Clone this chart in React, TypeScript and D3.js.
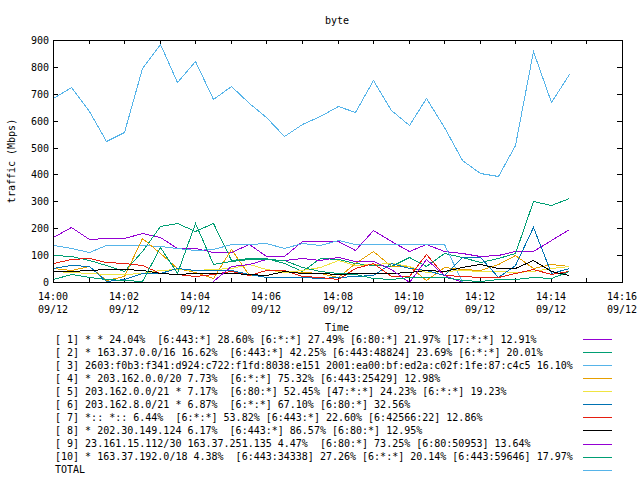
import React from "react";
import * as d3 from "d3";

const times = [
  "14:00:00", "14:00:30", "14:01:00", "14:01:30", "14:02:00", "14:02:30",
  "14:03:00", "14:03:30", "14:04:00", "14:04:30", "14:05:00", "14:05:30",
  "14:06:00", "14:06:30", "14:07:00", "14:07:30", "14:08:00", "14:08:30",
  "14:09:00", "14:09:30", "14:10:00", "14:10:30", "14:11:00", "14:11:30",
  "14:12:00", "14:12:30", "14:13:00", "14:13:30", "14:14:00", "14:14:30",
];

const s1 = [167, 203, 161, 163, 163, 184, 169, 126, 126, 111, 111, 143, 98, 98, 151, 151, 151, 120, 192, 151, 116, 143, 116, 106, 95, 99, 114, 114, 155, 198];
const s2 = [101, 97, 80, 62, 40, 115, 208, 218, 190, 218, 80, 90, 90, 72, 42, 88, 84, 70, 65, 60, 92, 60, 108, 92, 75, 90, 107, 300, 287, 311];
const s3 = [138, 128, 113, 138, 138, 137, 135, 128, 120, 122, 142, 142, 145, 128, 145, 139, 155, 141, 141, 141, 141, 141, 141, 0, null, null, null, null, null, null];
const s4 = [52, 44, 58, 9, 21, 165, 108, 52, 36, 15, 122, 25, 25, 40, 38, 33, 17, 70, 116, 58, 58, 8, 56, 48, 43, 68, 101, 52, 68, 58];
const s5 = [42, 37, 32, 30, 30, 32, 43, 48, 46, 50, 52, 68, 48, 37, 46, 55, 80, 65, 68, 70, 58, 37, 42, 46, 42, 40, 37, 42, 52, 58];
const s6 = [52, 65, 58, 2, 11, 33, 33, 52, 43, 43, 43, 30, 20, 17, 20, 15, 17, 24, 27, 70, 51, 46, 27, 93, 93, 20, 62, 205, 33, 52];
const s7 = [70, 86, 88, 76, 70, 65, 33, 30, 24, 30, 40, 27, 43, 46, 24, 19, 12, 52, 70, 21, 24, 103, 27, 21, 20, 20, 33, 48, 30, 40];
const s8 = [40, 40, 46, 48, 48, 43, 35, 30, 33, 35, 33, 30, 27, 40, 35, 33, 30, 33, 33, 33, 37, 46, 42, 56, 68, 52, 52, 80, 40, 27];
const s9 = [null, null, null, null, null, null, null, null, null, 2, 60, 67, 87, 82, 89, 81, 93, 79, 79, 49, 0, 85, 27, 0, null, null, null, null, null, null];
const s10 = [12, 30, 18, 10, 8, 5, 132, 35, 219, 68, 78, 85, 85, 80, 55, 40, 35, 30, 15, 12, 20, 18, 20, 8, 5, 10, 10, 20, 15, 40];
const total = [683, 724, 636, 524, 556, 795, 884, 744, 822, 681, 728, 665, 615, 543, 588, 617, 656, 631, 750, 640, 584, 683, 578, 454, 405, 395, 510, 859, 668, 774];

const legendLabels = [
  "[ 1] * * 24.04%  [6:443:*] 28.60% [6:*:*] 27.49% [6:80:*] 21.97% [17:*:*] 12.91%",
  "[ 2] * 163.37.0.0/16 16.62%  [6:443:*] 42.25% [6:443:48824] 23.69% [6:*:*] 20.01%",
  "[ 3] 2603:f0b3:f341:d924:c722:f1fd:8038:e151 2001:ea00:bf:ed2a:c02f:1fe:87:c4c5 16.10%",
  "[ 4] * 203.162.0.0/20 7.73%  [6:*:*] 75.32% [6:443:25429] 12.98%",
  "[ 5] 203.162.0.0/21 * 7.17%  [6:80:*] 52.45% [47:*:*] 24.23% [6:*:*] 19.23%",
  "[ 6] 203.162.8.0/21 * 6.87%  [6:*:*] 67.10% [6:80:*] 32.56%",
  "[ 7] *:: *:: 6.44%  [6:*:*] 53.82% [6:443:*] 22.60% [6:42566:22] 12.86%",
  "[ 8] * 202.30.149.124 6.17%  [6:443:*] 86.57% [6:80:*] 12.95%",
  "[ 9] 23.161.15.112/30 163.37.251.135 4.47%  [6:80:*] 73.25% [6:80:50953] 13.64%",
  "[10] * 163.37.192.0/18 4.38%  [6:443:34338] 27.26% [6:*:*] 20.14% [6:443:59646] 17.97%",
  "TOTAL",
];

const seriesList = [s1, s2, s3, s4, s5, s6, s7, s8, s9, s10, total];
const colors = ["#9400d3", "#009e73", "#56b4e9", "#e69f00", "#f0e442", "#0072b2", "#e51e10", "#000000", "#9400d3", "#009e73", "#56b4e9"];

const yTicks = [0, 100, 200, 300, 400, 500, 600, 700, 800, 900];

const FONT = "'DejaVu Sans Mono', monospace";

export default function App() {
  const W = 640, H = 480;
  const L = 53, R = 622, T = 40, B = 282;
  const parse = d3.timeParse("%H:%M:%S");
  const tDates = times.map((t) => parse(t) as Date);
  const x = d3.scaleTime().domain([parse("14:00:00") as Date, parse("14:16:00") as Date]).range([L, R]);
  const y = d3.scaleLinear().domain([0, 900]).range([B, T]);
  const minorTicks = x.ticks(d3.timeMinute.every(1) as any);
  const majorTicks = x.ticks(d3.timeMinute.every(2) as any);
  const fmtT = d3.timeFormat("%H:%M");

  const line = d3
    .line<number | null>()
    .defined((d) => d !== null)
    .x((_, i) => Math.round(x(tDates[i])) + 0.5)
    .y((d) => Math.round(y(d as number)) + 0.5);

  return (
    <svg width={W} height={H} style={{ position: "absolute", left: 0, top: 0, background: "#fff" }} fontFamily={FONT} fontSize={10}>
      <rect x={0} y={0} width={W} height={H} fill="#fff" />
      <text x={337} y={20} textAnchor="middle" dominantBaseline="central">byte</text>
      <text transform={`translate(11,${(T + B) / 2}) rotate(-90)`} textAnchor="middle" dominantBaseline="central">traffic (Mbps)</text>
      <text x={337} y={327} textAnchor="middle" dominantBaseline="central">Time</text>

      {yTicks.map((v) => {
        const yy = Math.round(y(v)) + 0.5;
        return (
          <g key={"y" + v}>
            <line x1={L} x2={L + 5} y1={yy} y2={yy} stroke="#000" />
            <line x1={R - 5} x2={R} y1={yy} y2={yy} stroke="#000" />
            <text x={49} y={yy} textAnchor="end" dominantBaseline="central">{v}</text>
          </g>
        );
      })}

      {minorTicks.map((d, i) => {
        const xx = Math.round(x(d)) + 0.5;
        return (
          <g key={"xm" + i}>
            <line x1={xx} x2={xx} y1={B} y2={B - 4} stroke="#000" />
            <line x1={xx} x2={xx} y1={T} y2={T + 4} stroke="#000" />
          </g>
        );
      })}
      {majorTicks.map((d, i) => {
        const xx = Math.round(x(d));
        return (
          <g key={"xl" + i}>
            <text x={xx} y={296} textAnchor="middle" dominantBaseline="central">{fmtT(d)}</text>
            <text x={xx} y={309} textAnchor="middle" dominantBaseline="central">09/12</text>
          </g>
        );
      })}

      {seriesList.map((s, i) => (
        <path key={"s" + i} d={line(s) || ""} fill="none" stroke={colors[i]} strokeWidth={1} shapeRendering="crispEdges" />
      ))}

      <rect x={L + 0.5} y={T + 0.5} width={R - L} height={B - T} fill="none" stroke="#000" shapeRendering="crispEdges" />

      {legendLabels.map((lab, i) => {
        const yy = 339 + i * 13.07;
        return (
          <g key={"lg" + i}>
            <text x={55} y={yy} dominantBaseline="central" style={{ whiteSpace: "pre" }} xmlSpace="preserve">{lab}</text>
            <line x1={583} x2={612} y1={Math.round(yy) + 0.5} y2={Math.round(yy) + 0.5} stroke={colors[i]} shapeRendering="crispEdges" />
          </g>
        );
      })}
    </svg>
  );
}
